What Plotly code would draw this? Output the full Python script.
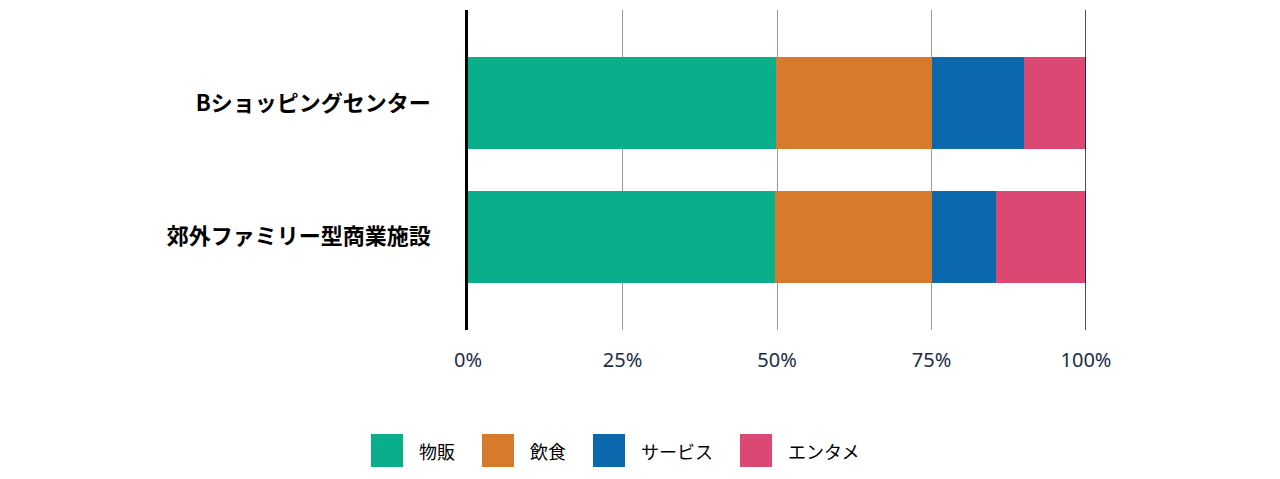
import plotly.graph_objects as go

categories = ["Bショッピングセンター", "郊外ファミリー型商業施設"]
series_names = ["物販", "飲食", "サービス", "エンタメ"]
series_colors = ["#0BAE8B", "#D77A2C", "#0B68AD", "#DB4874"]
values_retail = [49.8, 49.7]
values_food = [25.2, 25.3]
values_service = [15, 10.4]
values_entertainment = [10, 14.6]
x_tickvals = [0, 25, 50, 75, 100]
x_ticktext = ["0%", "25%", "50%", "75%", "100%"]

series_values = [values_retail, values_food, values_service, values_entertainment]

OFF = 8  # page body margin
W, H = 1280 - 2 * OFF, 479 - 2 * OFF
L, T = 468 - OFF, 10 - OFF
R = W - (1086 - OFF)
B = H - (330 - OFF)
pw, ph = W - L - R, H - T - B

fig = go.Figure()
for name, vals, col in zip(series_names, series_values, series_colors):
    fig.add_trace(go.Bar(
        y=categories, x=vals, name=name, orientation="h",
        marker=dict(color=col, line=dict(width=0)),
        width=0.69, showlegend=False,
    ))

# custom legend with large square swatches (reference pixel coords)
def px2x(px):
    return (px - OFF - L) / pw

def py2y(py):
    return (H - B - (py - OFF)) / ph

shapes = []
annotations = []
cur = 371
sq = 32
for name, col in zip(series_names, series_colors):
    shapes.append(dict(type="rect", xref="paper", yref="paper",
                       x0=px2x(cur), x1=px2x(cur + sq),
                       y0=py2y(467), y1=py2y(434),
                       fillcolor=col, line=dict(width=0)))
    tx = cur + sq + 16
    annotations.append(dict(xref="paper", yref="paper", x=px2x(tx - 2), y=py2y(451),
                            text=name, showarrow=False, xanchor="left", yanchor="middle",
                            font=dict(family="Noto Sans CJK JP", size=18, color="#000000")))
    cur = tx + len(name) * 18 + 27

# right boundary line at 100%
shapes.append(dict(type="line", xref="x", yref="paper", x0=100, x1=100, y0=0, y1=1,
                   line=dict(color="#111111", width=1.5)))

fig.update_layout(
    width=W, height=H,
    margin=dict(l=L, r=R, t=T, b=B),
    paper_bgcolor="white", plot_bgcolor="white",
    barmode="stack", bargap=0.3,
    shapes=shapes, annotations=annotations,
    xaxis=dict(range=[0, 100], tickvals=x_tickvals, ticktext=x_ticktext,
               showgrid=True, gridcolor="#9a9a9a", gridwidth=1,
               zeroline=False, showline=False, ticks="",
               ticklabelstandoff=16,
               tickfont=dict(family="Noto Sans", size=20, color="#1B2D45")),
    yaxis=dict(range=[1.7, -0.7], showgrid=False, zeroline=False,
               showline=True, linecolor="#000000", linewidth=2.5,
               ticks="", ticklabelstandoff=30,
               tickfont=dict(family="Noto Sans CJK JP", size=22, color="#000000", weight="bold")),
    font=dict(family="Noto Sans CJK JP"),
)

fig.write_html("out.html")
